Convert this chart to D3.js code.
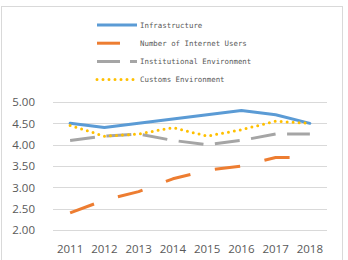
<!DOCTYPE html>
<html><head><meta charset="utf-8">
<script src="https://cdn.jsdelivr.net/npm/d3@7"></script>
<style>body{margin:0;background:#fff}svg{display:block}</style>
</head><body>
<script>
const years = ["2011","2012","2013","2014","2015","2016","2017","2018"];
const infrastructure = [4.5, 4.4, 4.5, 4.6, 4.7, 4.8, 4.7, 4.5];
const internetUsers = [2.4, 2.7, 2.9, 3.2, 3.4, 3.5, 3.7, 3.7];
const institutional = [4.1, 4.2, 4.25, 4.1, 4.0, 4.1, 4.25, 4.25];
const customs = [4.45, 4.2, 4.25, 4.4, 4.2, 4.35, 4.55, 4.5];
const yTicks = [2.0, 2.5, 3.0, 3.5, 4.0, 4.5, 5.0];
const seriesNames = ["Infrastructure","Number of Internet Users","Institutional Environment","Customs Environment"];

const W = 348, H = 260;
const svg = d3.select("body").append("svg").attr("width", W).attr("height", H);
svg.append("rect").attr("x",1.5).attr("y",6.5).attr("width",341).attr("height",262)
  .attr("fill","#fff").attr("stroke","#d9d9d9").attr("stroke-width",1);

const x = d3.scaleBand().domain(years).range([53, 327]);
const y = d3.scaleLinear().domain([2, 5]).range([230, 102]);

// grid
svg.append("g").selectAll("line").data(yTicks).join("line")
  .attr("x1",53).attr("x2",327)
  .attr("y1",d=>Math.round(y(d))+0.5).attr("y2",d=>Math.round(y(d))+0.5)
  .attr("stroke","#d9d9d9").attr("stroke-width",1);

const yAxis = svg.append("g").attr("transform","translate(53,0)")
  .call(d3.axisLeft(y).tickValues(yTicks).tickFormat(d3.format(".2f")).tickSize(0).tickPadding(18));
yAxis.select(".domain").remove();
yAxis.selectAll("text").attr("fill","#595959").style("font-family","'Open Sans', sans-serif").style("font-size","11.5px");

const xAxis = svg.append("g").attr("transform","translate(0,230)")
  .call(d3.axisBottom(x).tickSize(0).tickPadding(15));
xAxis.select(".domain").remove();
xAxis.selectAll("text").attr("fill","#595959").style("font-family","'Open Sans', sans-serif").style("font-size","11.5px");

const cx = d => x(d) + x.bandwidth()/2;
const series = [
  {name: seriesNames[0], values: infrastructure, color:"#5b9bd5", width:3, dash:null, cap:"round"},
  {name: seriesNames[1], values: internetUsers, color:"#ed7d31", width:3, dash:"25.5,25", cap:"butt"},
  {name: seriesNames[2], values: institutional, color:"#a5a5a5", width:3, dash:"25,11.5", cap:"butt"},
  {name: seriesNames[3], values: customs, color:"#ffc000", width:3, dash:"0,6", cap:"round"}
];
const line = d3.line().x((d,i)=>cx(years[i])).y(d=>y(d));
series.forEach(s=>{
  svg.append("path").datum(s.values).attr("d", line)
    .attr("fill","none").attr("stroke", s.color).attr("stroke-width", s.width)
    .attr("stroke-dasharray", s.dash).attr("stroke-linecap", s.cap).attr("stroke-linejoin","round");
});

// legend
const lg = svg.append("g");
const legendDash = [null, "23,100", "23,10", "0,6"];
series.forEach((s,i)=>{
  const ly = 25 + i*18.2;
  lg.append("line").attr("x1",97).attr("x2",137).attr("y1",ly).attr("y2",ly)
    .attr("stroke",s.color).attr("stroke-width",3)
    .attr("stroke-dasharray",legendDash[i]).attr("stroke-linecap", i===3?"round":"butt");
  lg.append("text").attr("x",140).attr("y",ly+2.5).text(s.name)
    .attr("fill","#595959").style("font-family","'DejaVu Sans Mono', monospace").style("font-size","7.4px");
});
</script>
</body></html>
